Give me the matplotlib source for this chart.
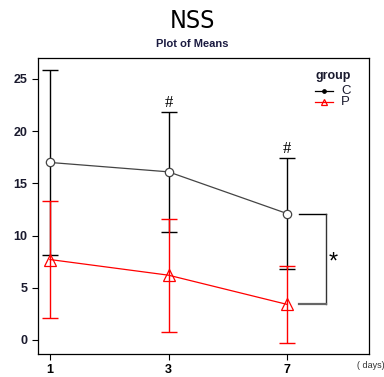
import matplotlib
matplotlib.use("Agg")
import matplotlib.pyplot as plt
from matplotlib.lines import Line2D

days = ["1", "3", "7"]
groups = ["C", "P"]
c_mean = [17.0, 16.1, 12.1]
c_err = [8.9, 5.75, 5.3]
p_mean = [7.7, 6.2, 3.4]
p_err = [5.6, 5.4, 3.7]
y_ticks = [0, 5, 10, 15, 20, 25]

plt.rcParams['font.family'] = ['Liberation Sans', 'DejaVu Sans']

W, H = 384, 377
fig = plt.figure(figsize=(3.84, 3.77), dpi=100)
ax = fig.add_axes([0.099, 0.061, 0.862, 0.785])
x = list(range(len(days)))

ax.errorbar(x, c_mean, yerr=c_err, fmt='none', ecolor='black', elinewidth=1.0,
            capsize=5.8, capthick=1.0, zorder=2)
ax.errorbar(x, p_mean, yerr=p_err, fmt='none', ecolor='red', elinewidth=1.0,
            capsize=5.8, capthick=1.0, zorder=3)
ax.plot(x, c_mean, color='#444444', lw=0.9, marker='o', ms=6, mfc='white',
        mec='#444444', mew=0.9, zorder=4)
ax.plot(x, p_mean, color='red', lw=0.9, marker='^', ms=8.5, mfc='none',
        mec='red', mew=0.9, zorder=4)

# significance marks
for i in [1, 2]:
    ax.text(x[i], c_mean[i] + c_err[i] + 0.1, "#", ha='center', va='bottom',
            fontsize=12, color='black', family=['Liberation Serif', 'DejaVu Serif'])

# bracket
bx0, bx1 = 2.1, 2.33
ax.plot([bx0, bx1], [c_mean[2], c_mean[2]], color='black', lw=1.0)
ax.plot([bx1, bx1], [c_mean[2], p_mean[2]], color='#333333', lw=1.0)
ax.plot([bx0, bx1], [p_mean[2], p_mean[2]], color='#666666', lw=1.6)
ax.text(bx1 + 0.06, (c_mean[2] + p_mean[2]) / 2 - 0.3, "*", ha='center', va='center',
        fontsize=17, color='black')

ax.set_xlim(-0.1, 2.69)
ax.set_ylim(-1.35, 27.0)
ax.set_xticks(x)
ax.set_xticklabels(days, fontweight='bold', fontsize=9)
ax.set_yticks(y_ticks)
ax.set_yticklabels([str(v) for v in y_ticks], fontweight='bold', fontsize=9,
                   color='#1a1a2e')
ax.tick_params(direction='out', length=4, width=0.8)
for s in ax.spines.values():
    s.set_linewidth(0.9)

# manual legend (R style)
fig.text(351 / W, 1 - 76 / H, "group", ha='right', va='center', fontsize=9,
         fontweight='bold', color='#1a1a2e')
leg_styles = [dict(color='black', marker='o', ms=2.5, mfc='black', mec='black'),
              dict(color='red', marker='^', ms=4, mfc='none', mec='red')]
for k, (g, st) in enumerate(zip(groups, leg_styles)):
    yy = 1 - (91 + 11 * k) / H
    fig.add_artist(Line2D([315 / W, 333 / W], [yy, yy], lw=0.9, transform=fig.transFigure,
                          **{kk: v for kk, v in st.items() if kk not in ('marker', 'ms', 'mfc', 'mec')}))
    fig.add_artist(Line2D([324 / W], [yy], transform=fig.transFigure, ls='none',
                          marker=st['marker'], ms=st['ms'], mfc=st['mfc'], mec=st['mec'], mew=0.9))
    fig.text(341 / W, yy, g, ha='left', va='center', fontsize=9.5, color='#1a1a2e')

fig.text(0.5, 0.945, "NSS", ha='center', va='center', fontsize=18,
         family='DejaVu Sans', fontstretch='condensed')
fig.text(0.5, 0.882, "Plot of Means", ha='center', va='center', fontsize=8,
         fontweight='bold', color='#1a1a40')
fig.text(0.965, 0.03, "( days)", ha='center', va='center', fontsize=6.5,
         color='#333333')

fig.savefig("out.png", dpi=100)
